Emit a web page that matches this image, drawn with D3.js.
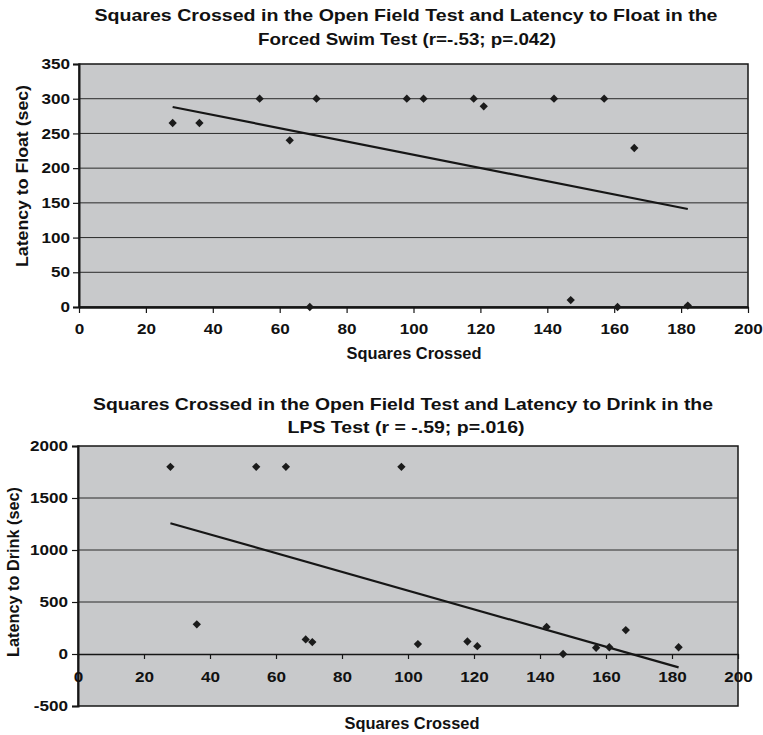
<!DOCTYPE html>
<html>
<head>
<meta charset="utf-8">
<script src="https://cdn.jsdelivr.net/npm/d3@7"></script>
<style>
  body { margin: 0; background: #fff; }
  text { font-family: "Liberation Sans", Arial, sans-serif; font-weight: bold; fill: #111; }
</style>
</head>
<body>
<div id="chart-area"></div>
<script>
// data (same 16 animals in both panels)
const squaresCrossed = [28, 36, 54, 63, 69, 71, 98, 103, 118, 121, 142, 147, 157, 161, 166, 182];
const latencyFloat = [265, 265, 300, 240, 0, 300, 300, 300, 300, 289, 300, 10, 300, 0, 229, 2];
const latencyDrink = [1800, 285, 1800, 1800, 140, 115, 1800, 95, 120, 75, 260, 0, 60, 65, 230, 65];

const xTicks = [0, 20, 40, 60, 80, 100, 120, 140, 160, 180, 200];
const floatTicks = [0, 50, 100, 150, 200, 250, 300, 350];
const drinkTicks = [-500, 0, 500, 1000, 1500, 2000];

const BG = "#c8c9cb";
const INK = "#161616";

const svg = d3.select("#chart-area").append("svg")
  .attr("width", 763)
  .attr("height", 735);

// least squares line over the range of x
function trend(xs, ys) {
  const mx = d3.mean(xs), my = d3.mean(ys);
  let sxy = 0, sxx = 0;
  xs.forEach((x, i) => { sxy += (x - mx) * (ys[i] - my); sxx += (x - mx) ** 2; });
  const b = sxy / sxx;
  const [x0, x1] = d3.extent(xs);
  return [[x0, my + b * (x0 - mx)], [x1, my + b * (x1 - mx)]];
}

// the original typeface is wider than Arial, stretch tick labels a little
function styleTicks(sel) {
  sel.selectAll(".tick text")
    .attr("font-size", "14.5px")
    .attr("font-family", "Liberation Sans, Arial, sans-serif")
    .attr("fill", INK)
    .each(function () {
      const w = this.getComputedTextLength();
      d3.select(this)
        .attr("textLength", w * 1.18)
        .attr("lengthAdjust", "spacingAndGlyphs");
    });
}

function panel(opt) {
  const x = d3.scaleLinear().domain([0, 200]).range([opt.left, opt.right]);
  const y = d3.scaleLinear().domain(opt.yDomain).range([opt.bottom, opt.top]);
  const g = svg.append("g");

  // title
  opt.title.forEach((line, i) => {
    g.append("text")
      .attr("x", opt.titleX[i])
      .attr("y", opt.titleY[i])
      .attr("text-anchor", "middle")
      .attr("font-size", "16.5px")
      .attr("textLength", opt.titleLen[i])
      .attr("lengthAdjust", "spacingAndGlyphs")
      .text(line);
  });

  // plot area
  g.append("rect")
    .attr("x", opt.left).attr("y", opt.top)
    .attr("width", opt.right - opt.left)
    .attr("height", opt.bottom - opt.top)
    .attr("fill", BG)
    .attr("stroke", INK)
    .attr("stroke-width", 1.5);

  // gridlines
  g.append("g").selectAll("line")
    .data(opt.yTicks.filter(d => d !== opt.yDomain[0] && d !== opt.yDomain[1] && d !== 0))
    .join("line")
    .attr("x1", opt.left).attr("x2", opt.right)
    .attr("y1", d => y(d)).attr("y2", d => y(d))
    .attr("stroke", "#2a2a2a")
    .attr("stroke-width", 1);

  // y axis (plain hyphen for negatives, as in the original)
  const yAxis = g.append("g")
    .attr("transform", `translate(${opt.left},0)`)
    .call(d3.axisLeft(y).tickValues(opt.yTicks).tickFormat(d => String(d))
      .tickSize(6).tickPadding(opt.yPad));
  yAxis.select(".domain").attr("stroke", INK).attr("stroke-width", 2);
  yAxis.selectAll(".tick line").attr("stroke", INK).attr("stroke-width", 1.2);
  styleTicks(yAxis);

  // x axis at y = 0
  const xAxis = g.append("g")
    .attr("transform", `translate(0,${y(0)})`)
    .call(d3.axisBottom(x).tickValues(xTicks).tickSize(opt.xTickSize).tickPadding(opt.xPad).tickSizeOuter(0));
  xAxis.select(".domain").attr("stroke", INK).attr("stroke-width", opt.zeroWidth);
  xAxis.selectAll(".tick line").attr("stroke", INK).attr("stroke-width", 1.2);
  styleTicks(xAxis);

  // trend line
  g.append("path")
    .datum(trend(squaresCrossed, opt.values))
    .attr("fill", "none")
    .attr("stroke", INK)
    .attr("stroke-width", 2.2)
    .attr("d", d3.line().x(d => x(d[0])).y(d => y(d[1])));

  // points
  g.append("g").selectAll("path")
    .data(squaresCrossed.map((d, i) => [d, opt.values[i]]))
    .join("path")
    .attr("transform", d => `translate(${x(d[0])},${y(d[1])})`)
    .attr("d", d3.symbol(d3.symbolDiamond2, 44))
    .attr("fill", "#1b1b1b");

  // axis titles
  g.append("text")
    .attr("x", opt.xTitleX)
    .attr("y", opt.xTitleY)
    .attr("text-anchor", "middle")
    .attr("font-size", "16px")
    .attr("textLength", 135)
    .attr("lengthAdjust", "spacingAndGlyphs")
    .text("Squares Crossed");

  g.append("text")
    .attr("transform", `translate(${opt.yTitleX},${opt.yTitleY}) rotate(-90)`)
    .attr("text-anchor", "middle")
    .attr("font-size", "16px")
    .attr("textLength", opt.yTitleLen)
    .attr("lengthAdjust", "spacingAndGlyphs")
    .text(opt.yTitle);
}

panel({
  title: ["Squares Crossed in the Open Field Test and Latency to Float in the",
          "Forced Swim Test (r=-.53; p=.042)"],
  titleX: [406, 407], titleY: [21, 45], titleLen: [623, 298],
  left: 79, right: 748, top: 64, bottom: 307,
  yDomain: [0, 350], yTicks: floatTicks,
  values: latencyFloat,
  yPad: 3, xTickSize: 6, xPad: 11, zeroWidth: 2.5,
  xTitleX: 414, xTitleY: 359,
  yTitle: "Latency to Float (sec)", yTitleX: 28, yTitleY: 176, yTitleLen: 182
});

panel({
  title: ["Squares Crossed in the Open Field Test and Latency to Drink in the",
          "LPS Test (r = -.59; p=.016)"],
  titleX: [403, 406], titleY: [410, 433], titleLen: [620, 237],
  left: 78, right: 738, top: 446, bottom: 706,
  yDomain: [-500, 2000], yTicks: drinkTicks,
  values: latencyDrink,
  yPad: 4, xTickSize: 5, xPad: 13, zeroWidth: 1.5,
  xTitleX: 412, xTitleY: 729,
  yTitle: "Latency to Drink (sec)", yTitleX: 19, yTitleY: 572, yTitleLen: 170
});
</script>
</body>
</html>
